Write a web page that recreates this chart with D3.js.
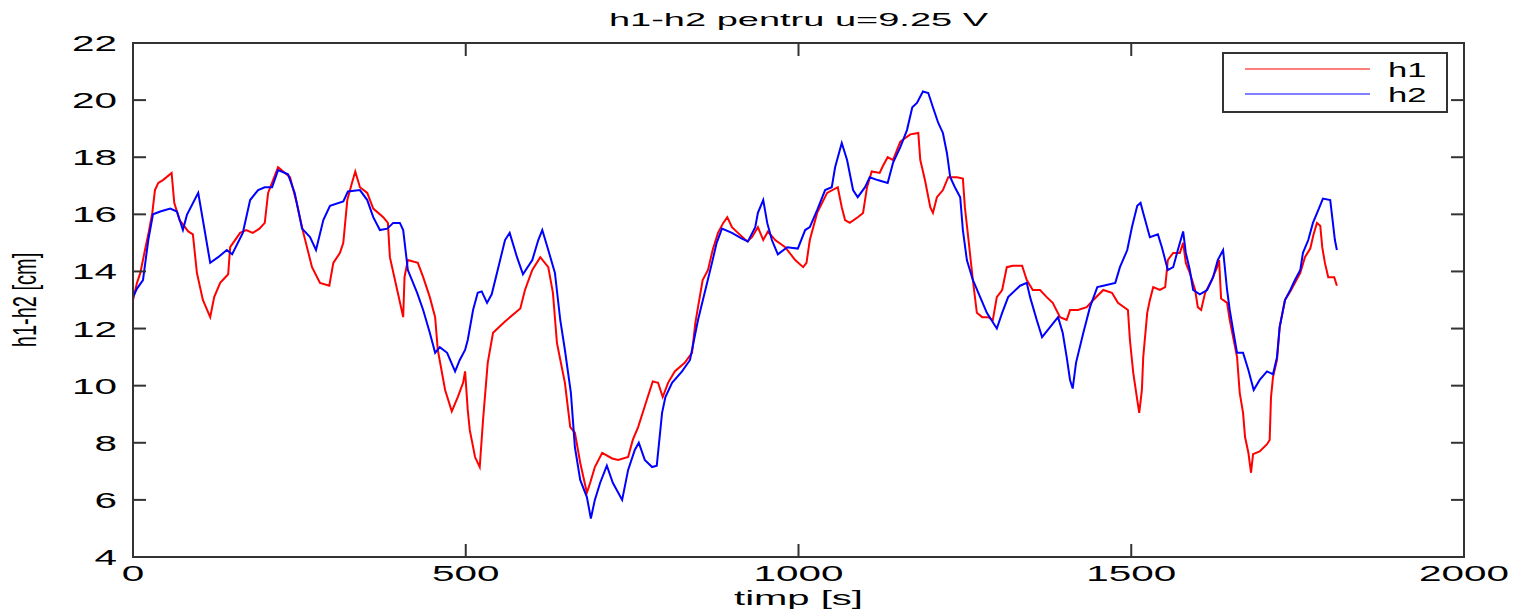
<!DOCTYPE html>
<html>
<head>
<meta charset="utf-8">
<script src="https://cdn.jsdelivr.net/npm/d3@7"></script>
<style>
body { margin: 0; background: #ffffff; }
svg { display: block; }
text { font-family: "Liberation Sans", Arial, sans-serif; fill: #000; }
</style>
</head>
<body>
<script>
// time [s] and level [cm]
var t1 = [0,6,11,18,23,29,33,38,45,58,62,70,83,90,96,105,116,122,131,143,146,161,170,180,190,198,203,218,236,246,256,269,281,295,301,311,316,322,329,334,341,352,361,376,383,386,397,406,408,413,428,436,446,454,458,469,479,488,496,499,503,506,514,521,526,533,541,559,582,589,600,612,624,631,637,649,657,664,672,682,687,694,705,720,729,744,751,759,772,781,789,796,804,814,829,840,845,849,856,864,871,879,887,893,900,909,923,930,939,947,954,965,980,995,1007,1012,1017,1028,1043,1059,1065,1070,1077,1089,1097,1103,1110,1122,1127,1134,1142,1153,1168,1180,1183,1190,1198,1202,1208,1217,1225,1238,1247,1250,1255,1262,1268,1276,1285,1292,1298,1306,1313,1322,1336,1343,1352,1363,1373,1382,1393,1403,1408,1420,1433,1443,1458,1471,1480,1495,1498,1503,1509,1512,1516,1518,1524,1528,1533,1543,1551,1555,1563,1573,1578,1582,1588,1596,1600,1605,1611,1621,1629,1632,1635,1644,1648,1659,1663,1668,1671,1676,1680,1683,1693,1704,1708,1710,1713,1719,1723,1731,1739,1746,1754,1761,1769,1774,1779,1784,1787,1791,1796,1805,1809];
var h1 = [13.0,13.6,13.95,14.75,15.3,16.05,16.85,17.1,17.2,17.45,16.4,15.8,15.4,15.3,13.95,13.0,12.4,13.1,13.6,13.9,14.85,15.35,15.45,15.35,15.5,15.7,16.75,17.65,17.3,16.4,15.35,14.15,13.6,13.5,14.3,14.65,15.0,16.5,17.1,17.5,16.95,16.75,16.2,15.9,15.7,14.5,13.35,12.4,13.8,14.4,14.3,13.8,13.1,12.4,11.25,9.85,9.1,9.6,10.1,10.5,9.15,8.45,7.5,7.15,8.8,10.8,11.85,12.25,12.7,13.35,14.05,14.5,14.15,13.25,11.5,10.1,8.55,8.35,7.3,6.25,6.6,7.15,7.65,7.45,7.4,7.5,8.1,8.55,9.5,10.15,10.1,9.6,10.1,10.5,10.8,11.15,12.2,12.75,13.7,14.05,14.75,15.35,15.7,15.9,15.55,15.35,15.05,15.2,15.55,15.1,15.4,15.1,14.85,14.4,14.15,14.3,15.1,16.05,16.75,16.95,16.25,15.8,15.7,15.9,16.05,16.95,17.5,17.45,17.7,18.0,17.9,18.55,18.8,18.85,17.9,17.2,16.25,16.05,16.6,16.85,17.3,17.3,17.25,16.25,15.2,13.7,12.55,12.4,12.4,12.3,13.1,13.35,14.15,14.2,14.2,13.7,13.35,13.35,13.1,12.9,12.4,12.3,12.65,12.65,12.75,13.0,13.35,13.25,12.9,12.65,11.6,10.45,9.5,9.05,9.85,11.0,12.55,13.0,13.45,13.35,13.45,14.4,14.65,14.65,15.0,14.3,13.95,13.35,12.75,12.65,13.25,13.7,14.15,14.4,13.05,12.9,12.3,11.0,9.75,9.05,8.2,7.65,6.95,7.6,7.7,7.95,8.1,9.6,10.3,10.9,12.05,13.0,13.3,13.6,13.95,14.5,14.8,15.3,15.7,15.6,14.85,14.3,13.8,13.8,13.5];

var t2 = [0,6,15,23,30,41,56,66,75,81,98,105,116,128,141,149,165,176,188,198,209,218,233,243,254,266,275,286,296,316,323,341,352,361,371,382,391,401,406,413,427,436,446,454,461,472,484,491,499,503,511,518,524,532,539,548,559,566,577,586,600,609,615,624,634,642,649,658,664,672,682,688,694,702,712,721,735,744,754,760,769,780,787,795,800,810,825,837,849,859,870,877,885,900,915,924,935,939,947,953,960,969,983,999,1010,1017,1028,1040,1050,1055,1065,1073,1082,1089,1100,1107,1119,1134,1142,1153,1163,1171,1178,1187,1195,1202,1210,1217,1223,1228,1235,1243,1247,1253,1262,1273,1283,1298,1306,1315,1333,1343,1348,1358,1366,1378,1390,1397,1403,1408,1412,1417,1428,1438,1449,1458,1476,1483,1494,1501,1509,1514,1518,1528,1540,1546,1555,1563,1570,1578,1582,1588,1593,1603,1614,1623,1630,1638,1644,1648,1653,1659,1668,1676,1684,1693,1704,1713,1719,1723,1731,1739,1746,1754,1758,1766,1773,1781,1788,1799,1802,1806,1809];
var h2 = [13.1,13.4,13.7,15.1,16.0,16.1,16.2,16.1,15.45,15.98,16.75,15.8,14.3,14.5,14.75,14.6,15.35,16.5,16.85,16.95,16.95,17.55,17.4,16.75,15.5,15.2,14.75,15.8,16.3,16.45,16.8,16.85,16.5,15.9,15.45,15.5,15.7,15.7,15.45,14.05,13.25,12.65,11.85,11.15,11.35,11.15,10.5,10.9,11.25,11.6,12.65,13.25,13.3,12.9,13.2,14.05,15.1,15.35,14.5,13.9,14.4,15.1,15.45,14.75,13.95,12.3,11.25,9.75,7.85,6.7,6.1,5.35,6.0,6.6,7.2,6.6,6.0,7.05,7.75,8.0,7.4,7.15,7.2,9.05,9.6,10.1,10.5,10.9,12.3,13.25,14.3,15.0,15.5,15.35,15.15,15.05,15.55,16.05,16.5,15.7,15.1,14.6,14.85,14.8,15.45,15.55,16.15,16.85,16.95,17.65,18.5,17.9,16.85,16.6,16.95,17.3,17.2,17.1,17.8,18.35,18.95,19.75,19.9,20.3,20.25,19.75,19.2,18.85,18.15,17.3,16.95,16.6,15.45,14.4,13.7,13.1,12.55,12.0,12.55,13.1,13.5,13.6,13.1,12.3,11.7,12.05,12.4,11.85,11.0,10.2,9.9,10.8,11.85,12.75,13.45,13.5,13.6,14.15,14.75,15.55,16.3,16.4,16.05,15.2,15.3,14.85,14.05,14.15,14.75,15.4,14.65,14.05,13.35,13.2,13.35,13.8,14.4,14.75,13.35,12.65,11.95,11.15,11.15,10.55,9.85,10.2,10.5,10.4,11.0,12.05,13.0,13.35,13.7,14.05,14.65,15.1,15.7,16.15,16.55,16.5,15.9,15.1,14.75];

var xTicks = [0, 500, 1000, 1500, 2000];
var yTicks = [4, 6, 8, 10, 12, 14, 16, 18, 20, 22];
var seriesNames = ["h1", "h2"];
var seriesColors = ["#ff0000", "#0000ff"];

var W = 1516, H = 613;
var pLeft = 133, pRight = 1464, pTop = 43, pBottom = 557;

var svg = d3.select("body").append("svg")
	.attr("width", W)
	.attr("height", H);

var x = d3.scaleLinear().domain([0, 2000]).range([pLeft, pRight]);
var y = d3.scaleLinear().domain([4, 22]).range([pBottom, pTop]);

// stretched text, the original picture is squeezed vertically
var label = function(px, py, str, size, sx, anchor, rot){
	var tr = "translate(" + px + "," + py + ") scale(" + sx + ",1)";
	if (rot) tr += " rotate(" + rot + ")";
	return svg.append("text")
		.attr("transform", tr)
		.attr("font-size", size)
		.attr("text-anchor", anchor)
		.text(str);
}

var lineGen = function(ts, vs){
	return d3.line()
		.x(function(d, i){ return x(ts[i]); })
		.y(function(d){ return y(d); })(vs);
}

var plot = svg.append("g");
plot.append("path")
	.attr("d", lineGen(t1, h1))
	.attr("fill", "none")
	.attr("stroke", seriesColors[0])
	.attr("stroke-width", 2);
plot.append("path")
	.attr("d", lineGen(t2, h2))
	.attr("fill", "none")
	.attr("stroke", seriesColors[1])
	.attr("stroke-width", 2);

// axes, ticks inside on all four sides
var tickLen = 13;
var frame = svg.append("g").attr("stroke", "#333").attr("stroke-width", 2);
frame.append("rect")
	.attr("x", pLeft).attr("y", pTop)
	.attr("width", pRight - pLeft).attr("height", pBottom - pTop)
	.attr("fill", "none");
xTicks.forEach(function(v){
	frame.append("line").attr("x1", x(v)).attr("x2", x(v)).attr("y1", pBottom).attr("y2", pBottom - tickLen);
	frame.append("line").attr("x1", x(v)).attr("x2", x(v)).attr("y1", pTop).attr("y2", pTop + tickLen);
	label(x(v), 581, String(v), 22, 1.84, "middle");
});
yTicks.forEach(function(v){
	frame.append("line").attr("x1", pLeft).attr("x2", pLeft + tickLen).attr("y1", y(v)).attr("y2", y(v));
	frame.append("line").attr("x1", pRight).attr("x2", pRight - tickLen).attr("y1", y(v)).attr("y2", y(v));
	label(117, y(v) + 8, String(v), 22, 1.84, "end");
});

label((pLeft + pRight) / 2, 26, "h1-h2 pentru u=9.25 V", 19, 2.0, "middle");
label((pLeft + pRight) / 2, 605, "timp [s]", 20, 2.0, "middle");
label(36, 300, "h1-h2 [cm]", 20, 1.7, "middle", -90);

// legend
var lg = svg.append("g");
lg.append("rect")
	.attr("x", 1223).attr("y", 53)
	.attr("width", 224).attr("height", 59)
	.attr("fill", "#fff")
	.attr("stroke", "#333")
	.attr("stroke-width", 2);
seriesNames.forEach(function(n, i){
	var ly = 69 + i * 25;
	lg.append("line")
		.attr("x1", 1245).attr("x2", 1370)
		.attr("y1", ly).attr("y2", ly)
		.attr("stroke", seriesColors[i])
		.attr("stroke-width", 1.2);
	label(1388, ly + 8, n, 21, 1.65, "start");
});
</script>
</body>
</html>
